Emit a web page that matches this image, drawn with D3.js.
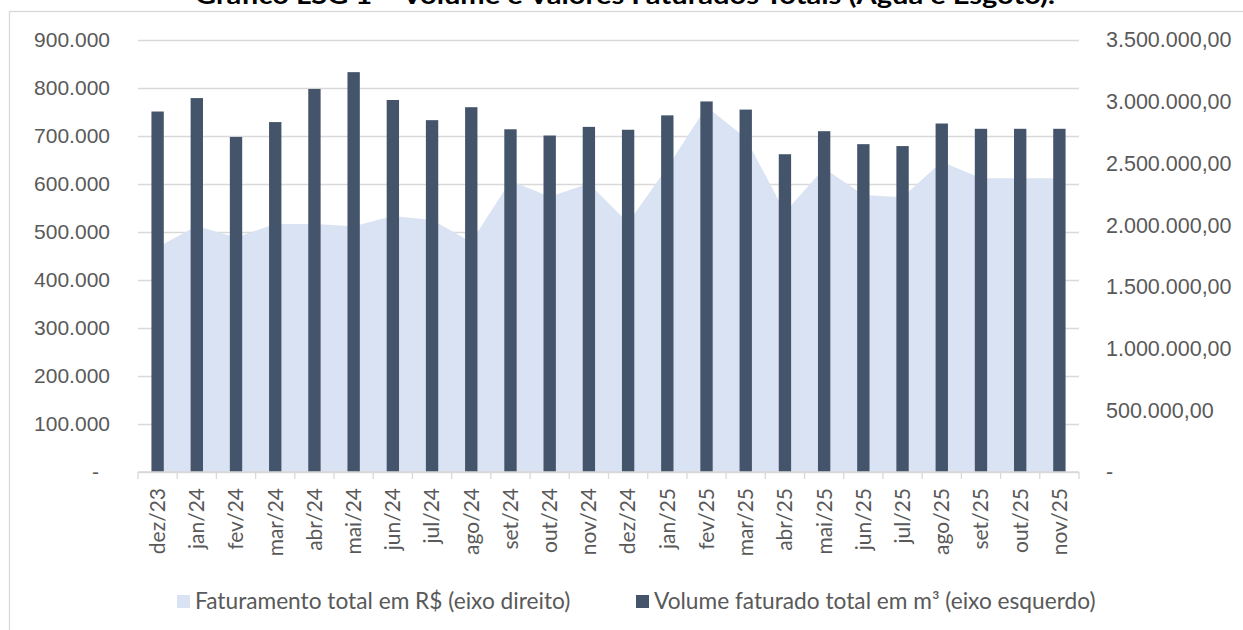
<!DOCTYPE html>
<html>
<head>
<meta charset="utf-8">
<script src="https://cdn.jsdelivr.net/npm/d3@7"></script>
<style>
    body { margin: 0; background: #fff; }
    svg { display: block; font-family: Lato, "Open Sans", sans-serif; }
</style>
</head>
<body>
<div id="chart"></div>
<script>
// data
const months = ["dez/23", "jan/24", "fev/24", "mar/24", "abr/24", "mai/24", "jun/24", "jul/24",
    "ago/24", "set/24", "out/24", "nov/24", "dez/24", "jan/25", "fev/25", "mar/25",
    "abr/25", "mai/25", "jun/25", "jul/25", "ago/25", "set/25", "out/25", "nov/25"];

// Volume faturado total em m³ (eixo esquerdo) - bars
const volume = [751000, 779000, 698000, 729000, 798000, 833000, 775000, 733000,
    760000, 714000, 701000, 719000, 713000, 743000, 772000, 755000,
    662000, 710000, 683000, 679000, 726000, 715000, 715000, 715000];

// Faturamento total em R$ (eixo direito) - area
const faturamento = [1820000, 1993000, 1900000, 2010000, 2010000, 1991000, 2074000, 2042000,
    1863000, 2360000, 2230000, 2337000, 2020000, 2468000, 2960000, 2706000,
    2104000, 2460000, 2244000, 2225000, 2514000, 2379000, 2379000, 2379000];

const leftTicks = [0, 100000, 200000, 300000, 400000, 500000, 600000, 700000, 800000, 900000];
const rightTicks = [0, 500000, 1000000, 1500000, 2000000, 2500000, 3000000, 3500000];

const title = "Gráfico LSG 1 – Volume e Valores Faturados Totais (Água e Esgoto).";
const legendLabels = ["Faturamento total em R$ (eixo direito)", "Volume faturado total em m³ (eixo esquerdo)"];

const W = 1243, H = 630;
const plot = {left: 138, right: 1079, top: 40, bottom: 472};
const barColor = "#44546a", areaColor = "#dae3f3", gridColor = "#d9d9d9", textColor = "#595959";

const br = d3.formatLocale({decimal: ",", thousands: ".", grouping: [3], currency: ["R$", ""]});
const fmtLeft = br.format(",.0f");
const fmtRight = br.format(",.2f");

const svg = d3.select("#chart").append("svg")
    .attr("width", W)
    .attr("height", H);

// chart frame (right and bottom edges fall outside the picture)
svg.append("rect")
    .attr("x", 9.5).attr("y", 11.5)
    .attr("width", W + 20).attr("height", H + 20)
    .attr("fill", "#fff")
    .attr("stroke", gridColor)
    .attr("stroke-width", 1.3);

// title, only its lower part is visible (as in the source)
svg.append("text")
    .attr("x", 625)
    .attr("y", 3.5)
    .attr("text-anchor", "middle")
    .attr("textLength", 860)
    .attr("lengthAdjust", "spacingAndGlyphs")
    .style("font-size", "25px")
    .style("font-weight", "bold")
    .style("fill", "#000")
    .text(title);

const x = d3.scaleBand()
    .domain(months)
    .range([plot.left, plot.right]);
const cx = d => x(d) + x.bandwidth() / 2;
const barW = x.bandwidth() * 0.315;

const yL = d3.scaleLinear().domain([0, 900000]).range([plot.bottom, plot.top]);
const yR = d3.scaleLinear().domain([0, 3500000]).range([plot.bottom, plot.top]);

// gridlines + left axis labels
const gLeft = svg.append("g")
    .attr("transform", "translate(" + plot.left + ",0)")
    .call(d3.axisLeft(yL)
        .tickValues(leftTicks)
        .tickSize(-(plot.right - plot.left))
        .tickPadding(28)
        .tickFormat(d => d === 0 ? "-" : fmtLeft(d)));
gLeft.select(".domain").remove();
gLeft.selectAll("line")
    .attr("stroke", gridColor)
    .attr("stroke-width", 1.3);
gLeft.selectAll("text")
    .style("font-size", "21px")
    .style("fill", textColor)
    .filter(d => d === 0)
    .attr("dx", -11);

// area (right axis)
const area = d3.area()
    .x((d, i) => cx(months[i]))
    .y0(yR(0))
    .y1(d => yR(d));

svg.append("path")
    .datum(faturamento)
    .attr("d", area)
    .attr("fill", areaColor);

// bars (left axis)
svg.selectAll(".bar")
    .data(volume)
    .enter().append("rect")
    .attr("class", "bar")
    .attr("x", (d, i) => cx(months[i]) - barW / 2)
    .attr("width", barW)
    .attr("y", d => yL(d))
    .attr("height", d => yL(0) - yL(d))
    .attr("fill", barColor);

// x axis line and category ticks
const gX = svg.append("g");
gX.append("line")
    .attr("x1", plot.left).attr("x2", plot.right)
    .attr("y1", plot.bottom).attr("y2", plot.bottom)
    .attr("stroke", gridColor)
    .attr("stroke-width", 1.3);
gX.selectAll(".tick")
    .data(months.concat([null]))
    .enter().append("line")
    .attr("x1", d => d === null ? plot.right : x(d))
    .attr("x2", d => d === null ? plot.right : x(d))
    .attr("y1", plot.bottom)
    .attr("y2", plot.bottom + 7)
    .attr("stroke", gridColor)
    .attr("stroke-width", 1.3);
gX.selectAll(".lbl")
    .data(months)
    .enter().append("text")
    .attr("transform", d => "translate(" + cx(d) + ",488) rotate(-90)")
    .attr("text-anchor", "end")
    .attr("dy", "0.35em")
    .style("font-size", "21px")
    .style("fill", textColor)
    .text(d => d);

// right axis labels
const gRight = svg.append("g")
    .attr("transform", "translate(" + plot.right + ",0)")
    .call(d3.axisRight(yR)
        .tickValues(rightTicks)
        .tickSize(0)
        .tickPadding(27)
        .tickFormat(d => d === 0 ? "-" : fmtRight(d)));
gRight.select(".domain").remove();
gRight.selectAll("text")
    .style("font-size", "21.5px")
    .style("fill", textColor);

// legend
const legend = svg.append("g");
const legendItems = [
    {label: legendLabels[0], color: areaColor, x: 177},
    {label: legendLabels[1], color: barColor, x: 636}
];
const li = legend.selectAll("g")
    .data(legendItems)
    .enter().append("g")
    .attr("transform", d => "translate(" + d.x + ",595)");
li.append("rect")
    .attr("width", 13)
    .attr("height", 13)
    .attr("fill", d => d.color);
li.append("text")
    .attr("x", 18)
    .attr("y", 6.5)
    .attr("dy", "0.35em")
    .style("font-size", "22.7px")
    .style("fill", textColor)
    .text(d => d.label);
</script>
</body>
</html>
